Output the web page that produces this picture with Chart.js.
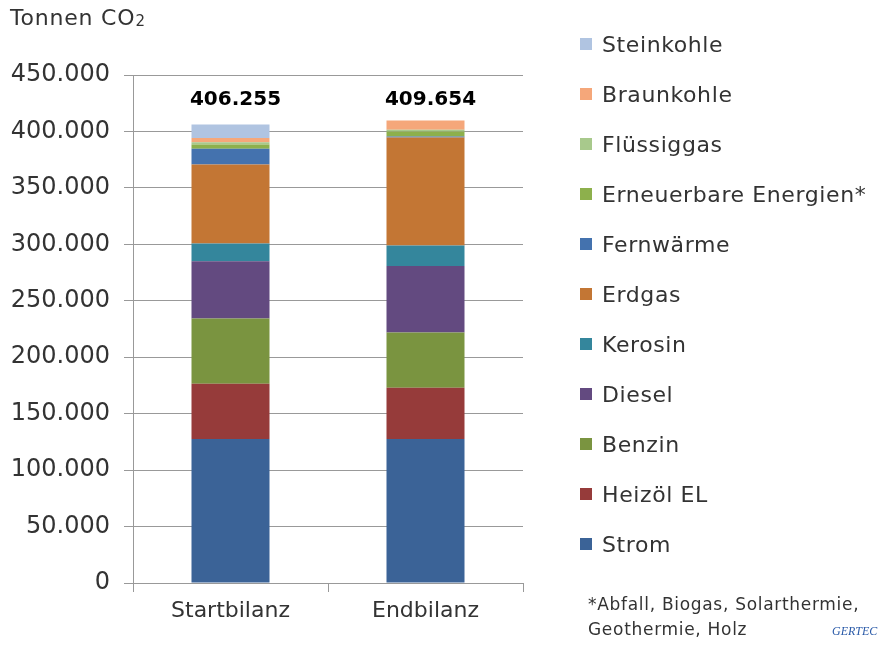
<!DOCTYPE html>
<html>
<head>
<meta charset="utf-8">
<script src="https://cdn.jsdelivr.net/npm/chart.js@4"></script>
<style>
  body { margin: 0; background: #fff; font-family: "DejaVu Sans", sans-serif; }
  #wrap { position: relative; width: 894px; height: 645px; }
  #unit { position: absolute; left: 10px; top: 5px; font-size: 22px; letter-spacing: 0.8px; color: #333; }
  #unit sub { font-size: 15px; vertical-align: -1px; letter-spacing: 0; }
  #legend { position: absolute; left: 580px; top: 32px; }
  .li { height: 50px; font-size: 22px; letter-spacing: 0.6px; color: #333; white-space: nowrap; }
  .li span.b { display: inline-block; width: 12px; height: 12px; margin-right: 10px; vertical-align: 2px; }
  #note { position: absolute; left: 588px; top: 592px; font-size: 17px; letter-spacing: 0.7px; color: #333; line-height: 25px; }
  #logo { position: absolute; left: 832px; top: 624px; font-size: 12px; font-style: italic; color: #2a5aa8; font-family: "Liberation Serif", serif; }
</style>
</head>
<body>
<div id="wrap">
  <canvas id="co2-chart" width="894" height="645"></canvas>
  <div id="unit">Tonnen CO<sub>2</sub></div>
  <div id="legend"></div>
  <div id="note">*Abfall, Biogas, Solarthermie,<br>Geothermie, Holz</div>
  <div id="logo">GERTEC</div>
</div>
<script>
// categories
var labels = ["Startbilanz", "Endbilanz"];

// series (Tonnen CO2), bottom to top
var strom       = [127600, 127600];
var heizoel     = [49000, 45400];
var benzin      = [57600, 48800];
var diesel      = [50800, 59100];
var kerosin     = [15700, 18000];
var erdgas      = [70000, 95700];
var fernwaerme  = [14000, 1000];
var erneuerbare = [3800, 4300];
var fluessiggas = [2000, 1500];
var braunkohle  = [3600, 8254];
var steinkohle  = [12155, 0];

var seriesNames = ["Strom", "Heizöl EL", "Benzin", "Diesel", "Kerosin", "Erdgas",
  "Fernwärme", "Erneuerbare Energien*", "Flüssiggas", "Braunkohle", "Steinkohle"];
var seriesData = [strom, heizoel, benzin, diesel, kerosin, erdgas,
  fernwaerme, erneuerbare, fluessiggas, braunkohle, steinkohle];
var seriesColors = ["#3b6397", "#963b3a", "#7a9440", "#634a80", "#34869c", "#c37634",
  "#4472ae", "#8db04c", "#a8c98c", "#f5a77a", "#b0c4e1"];

var fmt = function(v){ return v.toLocaleString("de-DE"); };
var fam = "'DejaVu Sans', sans-serif";

var datasets = [];
for (var i = 0; i < seriesNames.length; i++) {
  datasets.push({
    label: seriesNames[i],
    data: seriesData[i],
    backgroundColor: seriesColors[i],
    barPercentage: 0.8,
    categoryPercentage: 0.5
  });
}

// legend, top item = last series
var lg = document.getElementById('legend');
for (var j = seriesNames.length - 1; j >= 0; j--) {
  var d = document.createElement('div');
  d.className = 'li';
  d.innerHTML = '<span class="b" style="background:' + seriesColors[j] + '"></span>' + seriesNames[j];
  lg.appendChild(d);
}

// totals above the bars
var totalsPlugin = {
  id: 'totals',
  afterDatasetsDraw: function(chart) {
    var ctx = chart.ctx;
    var last = chart.getDatasetMeta(chart.data.datasets.length - 1);
    ctx.save();
    ctx.font = "bold 20px " + fam;
    ctx.fillStyle = "#000";
    ctx.textAlign = "center";
    ctx.textBaseline = "middle";
    for (var k = 0; k < labels.length; k++) {
      var sum = 0;
      chart.data.datasets.forEach(function(ds){ sum += ds.data[k]; });
      ctx.fillText(fmt(sum), last.data[k].x + 5, 100);
    }
    ctx.restore();
  }
};

var ctx = document.getElementById('co2-chart').getContext('2d');
var chart = new Chart(ctx, {
  type: 'bar',
  data: { labels: labels, datasets: datasets },
  options: {
    responsive: false,
    animation: false,
    layout: { padding: { left: 0, right: 371, top: 75, bottom: 0 } },
    plugins: { legend: { display: false }, tooltip: { enabled: false } },
    scales: {
      x: {
        stacked: true,
        grid: { drawOnChartArea: false, color: "#999", tickLength: 9 },
        border: { color: "#999" },
        ticks: { color: "#333", font: { size: 22, family: fam }, padding: 6 },
        afterFit: function(s){ s.height = 62; }
      },
      y: {
        stacked: true,
        min: 0, max: 450000,
        grid: { color: "#999", tickLength: 9 },
        border: { color: "#999" },
        ticks: {
          stepSize: 50000,
          color: "#333",
          padding: 14,
          font: { size: 24, family: fam },
          callback: function(v){ return fmt(v); }
        },
        afterFit: function(s){ s.width = 133; }
      }
    }
  },
  plugins: [totalsPlugin]
});
</script>
</body>
</html>
